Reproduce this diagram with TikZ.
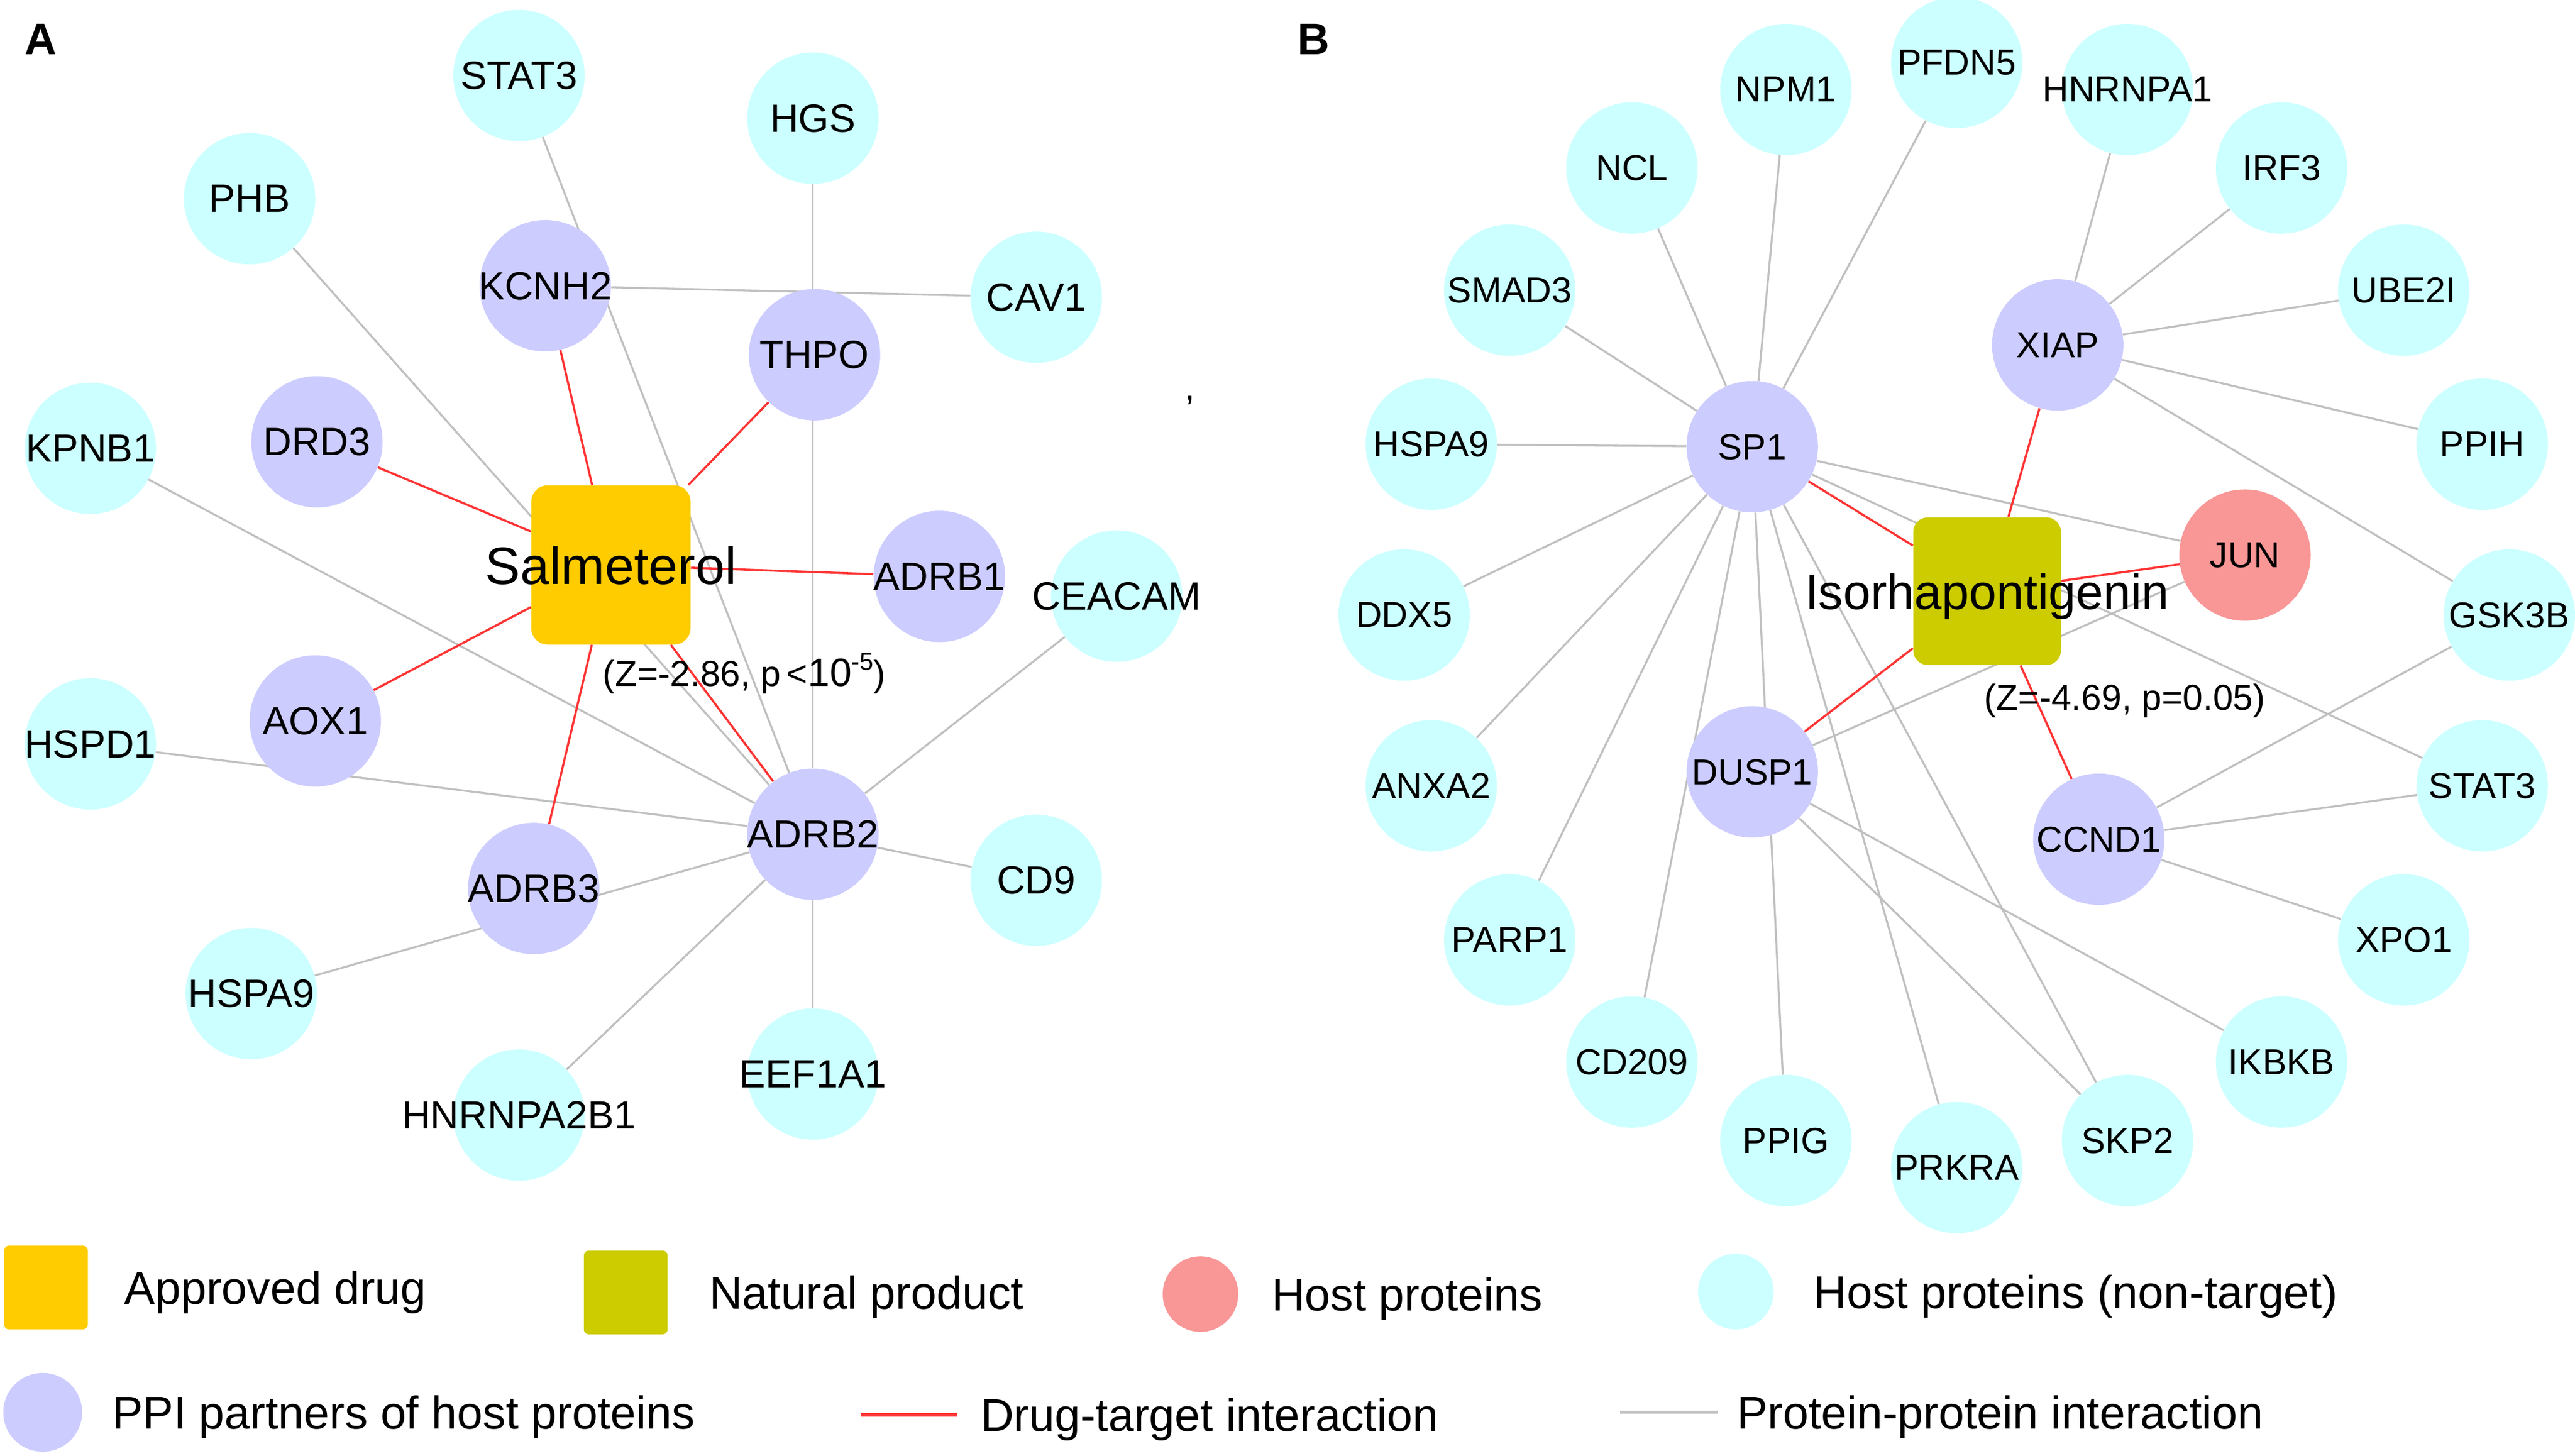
\documentclass[tikz,border=0pt]{standalone}
\usepackage{fontspec}
\setmainfont{Liberation Sans}
\usetikzlibrary{positioning,backgrounds}

\definecolor{hostcyan}{RGB}{204,255,255}
\definecolor{partnerblue}{RGB}{204,204,255}
\definecolor{hostpink}{RGB}{249,150,150}
\definecolor{drugorange}{RGB}{255,204,0}
\definecolor{naturalolive}{RGB}{204,204,0}
\definecolor{dtred}{RGB}{255,51,51}
\definecolor{ppigray}{RGB}{192,192,192}

\begin{document}
\begin{tikzpicture}[x=1pt,y=-1pt]
	\tikzstyle{protein} = [circle, minimum size=80pt, inner sep=0pt, text depth=0pt, execute at begin node={\hbox to 0pt\bgroup\hss}, execute at end node={\hss\egroup}]
	\tikzstyle{host} = [protein, fill=hostcyan]
	\tikzstyle{partner} = [protein, fill=partnerblue]
	\tikzstyle{hostprot} = [protein, fill=hostpink]
	\tikzstyle{drug} = [protein, rectangle, rounded corners=10pt, fill=drugorange]
	\tikzstyle{natural} = [protein, rectangle, rounded corners=9pt, fill=naturalolive]
	\tikzstyle{zlabel} = [inner sep=0pt, anchor=base west, font=\fontsize{22}{26}\selectfont]
	\tikzstyle{panel} = [inner sep=0pt, text depth=0pt, font=\fontsize{27}{32}\selectfont\bfseries]
	\tikzstyle{keytext} = [inner sep=0pt, text depth=0pt, font=\fontsize{28}{33}\selectfont]
	\tikzstyle{dt} = [draw=dtred, line width=1.3pt]
	\tikzstyle{ppi} = [draw=ppigray, line width=1.2pt]

	\useasboundingbox (0,0) rectangle (1568,886.6);

	% panel A
	\node[panel] (labA) at (25,24) {A};
	\begin{scope}[font=\fontsize{24}{28}\selectfont]
		\node[host] (stata) at (316,46) {STAT3};
		\node[host] (hgs) at (495,72) {HGS};
		\node[host] (phb) at (152,121) {PHB};
		\node[partner] (kcnh2) at (332,174) {KCNH2};
		\node[host] (cav1) at (631,181) {CAV1};
		\node[partner] (thpo) at (496,216) {THPO};
		\node[host] (kpnb1) at (55,273) {KPNB1};
		\node[partner] (drd3) at (193,269) {DRD3};
		\node[drug, minimum size=97pt, font=\fontsize{32}{38}\selectfont] (salm) at (372,344) {Salmeterol};
		\node[partner] (adrb1) at (572,351) {ADRB1};
		\node[host] (ceacam) at (680,363) {CEACAM};
		\node[partner] (aox1) at (192,439) {AOX1};
		\node[host] (hspd1) at (55,453) {HSPD1};
		\node[partner] (adrb2) at (495,508) {ADRB2};
		\node[host] (cd9) at (631,536) {CD9};
		\node[partner] (adrb3) at (325,541) {ADRB3};
		\node[host] (hspaa) at (153,605) {HSPA9};
		\node[host] (eef1a1) at (495,654) {EEF1A1};
		\node[host] (hnrnpa2b1) at (316,679) {HNRNPA2B1};
	\end{scope}
	\node[zlabel] (salmz) at (367,417.7) {(Z=-2.86, p\,<{\fontsize{24}{28}\selectfont 10}\raisebox{9.5pt}{\fontsize{15}{18}\selectfont -5})};
	\node[inner sep=0pt, anchor=base, font=\fontsize{22}{26}\selectfont] (comma) at (724.5,243.5) {,};

	% panel B
	\node[panel] (labB) at (800,24) {B};
	\begin{scope}[font=\fontsize{22}{26}\selectfont, every node/.append style={minimum size=74pt}]
		\node[host] (pfdn5) at (1191.5,38) {PFDN5};
		\node[host] (hnrnpa1) at (1295.5,54.5) {HNRNPA1};
		\node[host] (irf3) at (1389.3,102.3) {IRF3};
		\node[host] (ube2i) at (1463.7,176.7) {UBE2I};
		\node[host] (ppih) at (1511.5,270.5) {PPIH};
		\node[host] (gsk3b) at (1528,374.5) {GSK3B};
		\node[host] (statb) at (1511.5,478.5) {STAT3};
		\node[host] (xpo1) at (1463.7,572.3) {XPO1};
		\node[host] (ikbkb) at (1389.3,646.7) {IKBKB};
		\node[host] (skp2) at (1295.5,694.5) {SKP2};
		\node[host] (prkra) at (1191.5,711) {PRKRA};
		\node[host] (ppig) at (1087.5,694.5) {PPIG};
		\node[host] (cd209) at (993.7,646.7) {CD209};
		\node[host] (parp1) at (919.3,572.3) {PARP1};
		\node[host] (anxa2) at (871.5,478.5) {ANXA2};
		\node[host] (ddx5) at (855,374.5) {DDX5};
		\node[host] (hspab) at (871.5,270.5) {HSPA9};
		\node[host] (smad3) at (919.3,176.7) {SMAD3};
		\node[host] (ncl) at (993.7,102.3) {NCL};
		\node[host] (npm1) at (1087.5,54.5) {NPM1};
		\node[partner] (xiap) at (1253,210) {XIAP};
		\node[partner] (sp1) at (1067,272) {SP1};
		\node[partner] (dusp1) at (1067,470) {DUSP1};
		\node[partner] (ccnd1) at (1278,511) {CCND1};
		\node[hostprot] (jun) at (1367,338) {JUN};
		\node[natural, minimum size=90pt, font=\fontsize{30}{36}\selectfont] (iso) at (1210,360) {Isorhapontigenin};
	\end{scope}
	\node[zlabel] (isoz) at (1208,432.5) {(Z=-4.69, p=0.05)};

	% legend
	\node[drug, minimum size=51pt, rounded corners=3pt] (keydrug) at (28,784) {};
	\node[keytext, right=22pt of keydrug] (keydrugtext) {Approved drug};
	\node[natural, minimum size=51pt, rounded corners=3pt] (keynat) at (381,787) {};
	\node[keytext, right=25pt of keynat] (keynattext) {Natural product};
	\node[hostprot, minimum size=46pt] (keyprot) at (731,788) {};
	\node[keytext, right=20pt of keyprot] (keyprottext) {Host proteins};
	\node[host, minimum size=46pt] (keyhost) at (1057,786.5) {};
	\node[keytext, right=24pt of keyhost] (keyhosttext) {Host proteins (non-target)};
	\node[partner, minimum size=48pt] (keypartner) at (26,860) {};
	\node[keytext, right=18pt of keypartner] (keypartnertext) {PPI partners of host proteins};
	\coordinate (keydtstart) at (524,861.5);
	\coordinate (keydtend) at (583,861.5);
	\node[keytext, right=14pt of keydtend] (keydttext) {Drug-target interaction};
	\coordinate (keyppistart) at (986.5,860);
	\coordinate (keyppiend) at (1046,860);
	\node[keytext, right=11.5pt of keyppiend] (keyppitext) {Protein-protein interaction};

	\begin{scope}[on background layer]
		\fill[white] (0,0) rectangle (1568,886.6);
		% panel A interactions
		\path[ppi] (stata) edge (adrb2);
		\path[ppi] (hgs) edge (adrb2);
		\path[ppi] (kcnh2) edge (cav1);
		\path[ppi] (phb) edge (adrb2);
		\path[ppi] (kpnb1) edge (adrb2);
		\path[ppi] (hspd1) edge (adrb2);
		\path[ppi] (ceacam) edge (adrb2);
		\path[ppi] (cd9) edge (adrb2);
		\path[ppi] (eef1a1) edge (adrb2);
		\path[ppi] (hnrnpa2b1) edge (adrb2);
		\path[ppi] (hspaa) edge (adrb2);
		\path[dt] (salm) edge (kcnh2);
		\path[dt] (salm) edge (drd3);
		\path[dt] (salm) edge (thpo);
		\path[dt] (salm) edge (adrb1);
		\path[dt] (salm) edge (aox1);
		\path[dt] (salm) edge (adrb3);
		\path[dt] (salm) edge (adrb2);
		% panel B interactions
		\path[ppi] (sp1) edge (ncl);
		\path[ppi] (sp1) edge (npm1);
		\path[ppi] (sp1) edge (pfdn5);
		\path[ppi] (sp1) edge (smad3);
		\path[ppi] (sp1) edge (hspab);
		\path[ppi] (sp1) edge (ddx5);
		\path[ppi] (sp1) edge (anxa2);
		\path[ppi] (sp1) edge (parp1);
		\path[ppi] (sp1) edge (cd209);
		\path[ppi] (sp1) edge (ppig);
		\path[ppi] (sp1) edge (prkra);
		\path[ppi] (sp1) edge (skp2);
		\path[ppi] (sp1) edge (jun);
		\path[ppi] (sp1) edge (statb);
		\path[ppi] (dusp1) edge (jun);
		\path[ppi] (dusp1) edge (ikbkb);
		\path[ppi] (dusp1) edge (skp2);
		\path[ppi] (xiap) edge (hnrnpa1);
		\path[ppi] (xiap) edge (irf3);
		\path[ppi] (xiap) edge (ube2i);
		\path[ppi] (xiap) edge (ppih);
		\path[ppi] (xiap) edge (gsk3b);
		\path[ppi] (ccnd1) edge (gsk3b);
		\path[ppi] (ccnd1) edge (statb);
		\path[ppi] (ccnd1) edge (xpo1);
		\path[dt] (iso) edge (sp1);
		\path[dt] (iso) edge (xiap);
		\path[dt] (iso) edge (jun);
		\path[dt] (iso) edge (dusp1);
		\path[dt] (iso) edge (ccnd1);
		% legend lines
		\path[dt, line width=2pt] (keydtstart) edge (keydtend);
		\path[ppi, line width=1.7pt] (keyppistart) edge (keyppiend);
	\end{scope}
\end{tikzpicture}
\end{document}
